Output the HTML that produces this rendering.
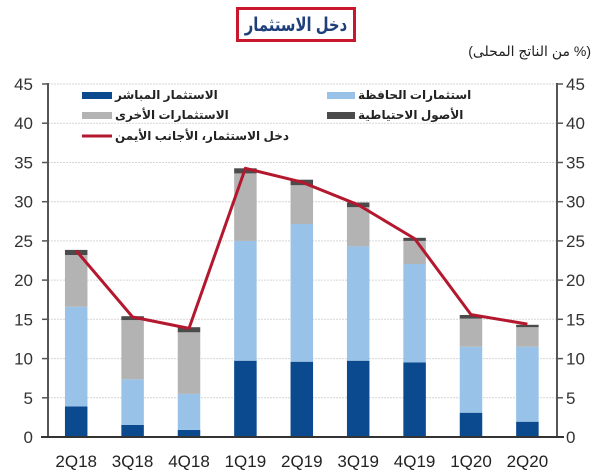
<!DOCTYPE html>
<html>
<head>
<meta charset="utf-8">
<style>
  html,body{margin:0;padding:0;background:#fff;}
  #wrap{position:relative;width:600px;height:475px;overflow:hidden;background:#fff;}
  svg{position:absolute;left:0;top:0;}
  .ar{position:absolute;white-space:nowrap;font-family:"Liberation Sans","Noto Sans CJK SC","DejaVu Sans",sans-serif;}
  .leg{font-size:12px;font-weight:bold;color:#222;direction:rtl;line-height:14px;}
  #title{left:236px;top:7px;width:120px;height:35px;box-sizing:border-box;border:3px solid #c8172f;}
  #title span{position:absolute;left:50%;top:3px;transform:translateX(-50%) scaleX(0.78);
    font-size:19px;font-weight:bold;color:#1f3f7a;line-height:26px;direction:rtl;white-space:nowrap;}
  #sub{right:9px;top:42px;font-size:14px;color:#222;line-height:18px;direction:rtl;text-align:right;}
</style>
</head>
<body>
<div id="wrap">
<svg width="600" height="475" viewBox="0 0 600 475" xmlns="http://www.w3.org/2000/svg">
  <!-- gridlines -->
  <g stroke="#d6d6d6" stroke-width="1" stroke-dasharray="2,1">
    <line x1="48" y1="84" x2="557" y2="84"/>
    <line x1="48" y1="123.2" x2="557" y2="123.2"/>
    <line x1="48" y1="162.5" x2="557" y2="162.5"/>
    <line x1="48" y1="201.7" x2="557" y2="201.7"/>
    <line x1="48" y1="240.9" x2="557" y2="240.9"/>
    <line x1="48" y1="280.1" x2="557" y2="280.1"/>
    <line x1="48" y1="319.3" x2="557" y2="319.3"/>
    <line x1="48" y1="358.6" x2="557" y2="358.6"/>
    <line x1="48" y1="397.8" x2="557" y2="397.8"/>
  </g>

  <!-- bars: FDI -->
  <g fill="#0b4a8e">
    <rect x="64.95" y="406.4" width="22.5" height="30.6"/>
    <rect x="121.35" y="425.0" width="22.5" height="12.0"/>
    <rect x="177.75" y="429.9" width="22.5" height="7.1"/>
    <rect x="234.15" y="360.7" width="22.5" height="76.3"/>
    <rect x="290.55" y="361.7" width="22.5" height="75.3"/>
    <rect x="346.95" y="360.7" width="22.5" height="76.3"/>
    <rect x="403.35" y="362.5" width="22.5" height="74.5"/>
    <rect x="459.75" y="412.7" width="22.5" height="24.3"/>
    <rect x="516.15" y="421.7" width="22.5" height="15.3"/>
  </g>
  <!-- portfolio -->
  <g fill="#98c2e8">
    <rect x="64.95" y="306.8" width="22.5" height="99.6"/>
    <rect x="121.35" y="379.35" width="22.5" height="45.65"/>
    <rect x="177.75" y="393.9" width="22.5" height="36.0"/>
    <rect x="234.15" y="240.9" width="22.5" height="119.8"/>
    <rect x="290.55" y="224.0" width="22.5" height="137.7"/>
    <rect x="346.95" y="246.4" width="22.5" height="114.3"/>
    <rect x="403.35" y="264.0" width="22.5" height="98.5"/>
    <rect x="459.75" y="346.8" width="22.5" height="65.9"/>
    <rect x="516.15" y="346.8" width="22.5" height="74.9"/>
  </g>
  <!-- other -->
  <g fill="#b3b3b3">
    <rect x="64.95" y="255.0" width="22.5" height="51.8"/>
    <rect x="121.35" y="320.1" width="22.5" height="59.25"/>
    <rect x="177.75" y="332.3" width="22.5" height="61.6"/>
    <rect x="234.15" y="173.4" width="22.5" height="67.5"/>
    <rect x="290.55" y="185.2" width="22.5" height="38.8"/>
    <rect x="346.95" y="207.2" width="22.5" height="39.2"/>
    <rect x="403.35" y="240.9" width="22.5" height="23.1"/>
    <rect x="459.75" y="318.6" width="22.5" height="28.2"/>
    <rect x="516.15" y="327.2" width="22.5" height="19.6"/>
  </g>
  <!-- reserves -->
  <g fill="#4b4b4b">
    <rect x="64.95" y="249.9" width="22.5" height="5.1"/>
    <rect x="121.35" y="316.2" width="22.5" height="3.9"/>
    <rect x="177.75" y="327.2" width="22.5" height="5.1"/>
    <rect x="234.15" y="168.3" width="22.5" height="5.1"/>
    <rect x="290.55" y="179.7" width="22.5" height="5.5"/>
    <rect x="346.95" y="202.5" width="22.5" height="4.7"/>
    <rect x="403.35" y="237.8" width="22.5" height="3.1"/>
    <rect x="459.75" y="315.0" width="22.5" height="3.6"/>
    <rect x="516.15" y="324.8" width="22.5" height="2.4"/>
  </g>

  <!-- line -->
  <polyline fill="none" stroke="#b3182f" stroke-width="3" stroke-linejoin="round"
    points="76.2,250.7 132.6,317.0 189,328.4 245.4,168.3 301.8,182.1 358.2,204.8 414.6,238.6 471,314.6 527.4,324.1"/>

  <!-- axes -->
  <g stroke="#555" stroke-width="2" fill="none">
    <line x1="48" y1="83" x2="48" y2="437"/>
    <line x1="557" y1="83" x2="557" y2="437"/>
  </g>
  <line x1="41" y1="437" x2="564" y2="437" stroke="#333" stroke-width="2"/>
  <g stroke="#555" stroke-width="1.5">
    <line x1="42" y1="84" x2="48" y2="84"/>
    <line x1="42" y1="123.2" x2="48" y2="123.2"/>
    <line x1="42" y1="162.5" x2="48" y2="162.5"/>
    <line x1="42" y1="201.7" x2="48" y2="201.7"/>
    <line x1="42" y1="240.9" x2="48" y2="240.9"/>
    <line x1="42" y1="280.1" x2="48" y2="280.1"/>
    <line x1="42" y1="319.3" x2="48" y2="319.3"/>
    <line x1="42" y1="358.6" x2="48" y2="358.6"/>
    <line x1="42" y1="397.8" x2="48" y2="397.8"/>
    <line x1="557" y1="84" x2="563" y2="84"/>
    <line x1="557" y1="123.2" x2="563" y2="123.2"/>
    <line x1="557" y1="162.5" x2="563" y2="162.5"/>
    <line x1="557" y1="201.7" x2="563" y2="201.7"/>
    <line x1="557" y1="240.9" x2="563" y2="240.9"/>
    <line x1="557" y1="280.1" x2="563" y2="280.1"/>
    <line x1="557" y1="319.3" x2="563" y2="319.3"/>
    <line x1="557" y1="358.6" x2="563" y2="358.6"/>
    <line x1="557" y1="397.8" x2="563" y2="397.8"/>
  </g>

  <!-- y labels left -->
  <g font-family="Liberation Sans, sans-serif" font-size="17" fill="#333" text-anchor="end">
    <text x="33" y="90">45</text>
    <text x="33" y="129.2">40</text>
    <text x="33" y="168.5">35</text>
    <text x="33" y="207.7">30</text>
    <text x="33" y="246.9">25</text>
    <text x="33" y="286.1">20</text>
    <text x="33" y="325.3">15</text>
    <text x="33" y="364.6">10</text>
    <text x="33" y="403.8">5</text>
    <text x="33" y="443">0</text>
  </g>
  <!-- y labels right -->
  <g font-family="Liberation Sans, sans-serif" font-size="17" fill="#333" text-anchor="start">
    <text x="566" y="90">45</text>
    <text x="566" y="129.2">40</text>
    <text x="566" y="168.5">35</text>
    <text x="566" y="207.7">30</text>
    <text x="566" y="246.9">25</text>
    <text x="566" y="286.1">20</text>
    <text x="566" y="325.3">15</text>
    <text x="566" y="364.6">10</text>
    <text x="566" y="403.8">5</text>
    <text x="566" y="443">0</text>
  </g>
  <!-- x labels -->
  <g font-family="Liberation Sans, sans-serif" font-size="17" fill="#222" text-anchor="middle">
    <text x="76.2" y="467">2Q18</text>
    <text x="132.6" y="467">3Q18</text>
    <text x="189" y="467">4Q18</text>
    <text x="245.4" y="467">1Q19</text>
    <text x="301.8" y="467">2Q19</text>
    <text x="358.2" y="467">3Q19</text>
    <text x="414.6" y="467">4Q19</text>
    <text x="471" y="467">1Q20</text>
    <text x="527.4" y="467">2Q20</text>
  </g>

  <!-- legend swatches -->
  <rect x="82" y="92" width="30" height="7" fill="#0b4a8e"/>
  <rect x="327" y="92" width="28" height="7" fill="#98c2e8"/>
  <rect x="82" y="112" width="30" height="7" fill="#b3b3b3"/>
  <rect x="327" y="112" width="28" height="7" fill="#4b4b4b"/>
  <line x1="82" y1="136" x2="112" y2="136" stroke="#b3182f" stroke-width="3"/>
</svg>

<div id="title" class="ar"><span>دخل الاستثمار</span></div>

<div id="sub" class="ar">(% من الناتج المحلى)</div>

<div class="ar leg" style="left:115px;top:88px;">الاستثمار المباشر</div>
<div class="ar leg" style="left:358px;top:88px;">استثمارات الحافظة</div>
<div class="ar leg" style="left:115px;top:108px;">الاستثمارات الأخرى</div>
<div class="ar leg" style="left:358px;top:108px;">الأصول الاحتياطية</div>
<div class="ar leg" style="left:115px;top:129px;">دخل الاستثمار، الأجانب الأيمن</div>
</div>
</body>
</html>
